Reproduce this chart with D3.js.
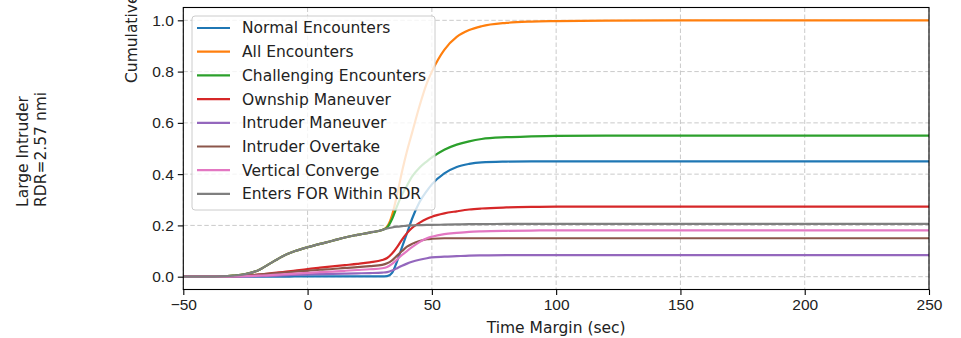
<!DOCTYPE html>
<html>
<head>
<meta charset="utf-8">
<script src="https://cdn.jsdelivr.net/npm/d3@7"></script>
<style>
  body { margin: 0; background: #fff; }
  svg { font-family: "DejaVu Sans", sans-serif; }
</style>
</head>
<body>
<div id="chart"></div>
<script>
// time margin samples (sec)
const times = [-50, -40, -35, -30, -25, -20, -15, -10, -5, 0, 5, 10, 15, 20, 25, 30, 32, 34, 36, 38, 40, 42, 45, 48, 50, 55, 60, 65, 70, 80, 90, 100, 120, 150, 200, 250];

const seriesNames = ["Normal Encounters", "All Encounters", "Challenging Encounters", "Ownship Maneuver",
  "Intruder Maneuver", "Intruder Overtake", "Vertical Converge", "Enters FOR Within RDR"];

const normal = [0, 0, 0, 0, 0, 0, 0, 0, 0.001, 0.001, 0.001, 0.001, 0.001, 0.001, 0.001, 0.001, 0.002, 0.015, 0.06, 0.115, 0.17, 0.225, 0.29, 0.335, 0.36, 0.403, 0.428, 0.44, 0.446, 0.449, 0.45, 0.45, 0.45, 0.45, 0.45, 0.45];
const all = [0, 0, 0.001, 0.004, 0.01, 0.024, 0.052, 0.08, 0.1, 0.115, 0.128, 0.14, 0.153, 0.163, 0.172, 0.182, 0.195, 0.24, 0.32, 0.41, 0.49, 0.56, 0.665, 0.755, 0.8, 0.885, 0.935, 0.962, 0.977, 0.99, 0.995, 0.997, 0.999, 1, 1, 1];
const challenging = [0, 0, 0.001, 0.004, 0.01, 0.024, 0.052, 0.08, 0.1, 0.115, 0.128, 0.14, 0.153, 0.163, 0.172, 0.182, 0.192, 0.225, 0.275, 0.32, 0.355, 0.39, 0.425, 0.45, 0.465, 0.495, 0.515, 0.528, 0.537, 0.544, 0.547, 0.549, 0.55, 0.55, 0.55, 0.55];
const ownship = [0, 0, 0.001, 0.002, 0.004, 0.008, 0.013, 0.018, 0.024, 0.03, 0.035, 0.04, 0.045, 0.05, 0.056, 0.065, 0.073, 0.09, 0.115, 0.145, 0.17, 0.19, 0.21, 0.226, 0.234, 0.247, 0.255, 0.262, 0.266, 0.27, 0.272, 0.273, 0.273, 0.273, 0.273, 0.273];
const intruderMan = [0, 0, 0, 0, 0.001, 0.002, 0.003, 0.005, 0.007, 0.009, 0.01, 0.011, 0.012, 0.013, 0.014, 0.016, 0.018, 0.024, 0.033, 0.043, 0.051, 0.058, 0.066, 0.072, 0.075, 0.078, 0.08, 0.082, 0.083, 0.084, 0.084, 0.084, 0.084, 0.084, 0.084, 0.084];
const overtake = [0, 0, 0.001, 0.002, 0.004, 0.008, 0.012, 0.016, 0.02, 0.023, 0.027, 0.03, 0.034, 0.037, 0.041, 0.046, 0.052, 0.064, 0.082, 0.1, 0.117, 0.128, 0.139, 0.146, 0.148, 0.15, 0.15, 0.15, 0.15, 0.15, 0.15, 0.15, 0.15, 0.15, 0.15, 0.15];
const vertical = [0, 0, 0, 0.001, 0.002, 0.004, 0.006, 0.009, 0.012, 0.015, 0.018, 0.02, 0.023, 0.026, 0.029, 0.033, 0.038, 0.05, 0.067, 0.085, 0.1, 0.115, 0.135, 0.15, 0.156, 0.166, 0.171, 0.175, 0.177, 0.179, 0.18, 0.181, 0.181, 0.181, 0.181, 0.181];
const entersFor = [0, 0, 0.001, 0.004, 0.01, 0.024, 0.052, 0.08, 0.1, 0.115, 0.128, 0.14, 0.153, 0.163, 0.172, 0.182, 0.188, 0.192, 0.195, 0.197, 0.199, 0.2, 0.201, 0.202, 0.202, 0.203, 0.204, 0.205, 0.205, 0.206, 0.206, 0.206, 0.206, 0.206, 0.206, 0.206];

const xTicks = [-50, 0, 50, 100, 150, 200, 250];
const yTicks = [0, 0.2, 0.4, 0.6, 0.8, 1.0];

const values = [normal, all, challenging, ownship, intruderMan, overtake, vertical, entersFor];
const colors = ["#1f77b4", "#ff7f0e", "#2ca02c", "#d62728", "#9467bd", "#8c564b", "#e377c2", "#7f7f7f"];

const W = 961, H = 338;
const margin = {top: 7.5, right: 32, bottom: 48.5, left: 183.3};
const width = W - margin.left - margin.right;
const height = H - margin.top - margin.bottom;
const fs = 15.5;

const svg = d3.select("#chart").append("svg")
  .attr("width", W)
  .attr("height", H);

const g = svg.append("g")
  .attr("transform", `translate(${margin.left},${margin.top})`);

const x = d3.scaleLinear().domain([-50, 250]).range([0, width]);
const y = d3.scaleLinear().domain([-0.05, 1.05]).range([height, 0]);

// grid
g.append("g").selectAll("line")
  .data(xTicks)
  .join("line")
  .attr("x1", d => x(d)).attr("x2", d => x(d))
  .attr("y1", 0).attr("y2", height)
  .attr("stroke", "#c4c4c4").attr("stroke-width", 0.9)
  .attr("stroke-dasharray", "4.5,2.5");

g.append("g").selectAll("line")
  .data(yTicks)
  .join("line")
  .attr("x1", 0).attr("x2", width)
  .attr("y1", d => y(d)).attr("y2", d => y(d))
  .attr("stroke", "#c4c4c4").attr("stroke-width", 0.9)
  .attr("stroke-dasharray", "4.5,2.5");

// lines
g.append("clipPath").attr("id", "clip")
  .append("rect").attr("width", width).attr("height", height);

const line = d3.line()
  .x((d, i) => x(times[i]))
  .y(d => y(d))
  .curve(d3.curveMonotoneX);

g.append("g").attr("clip-path", "url(#clip)")
  .selectAll("path")
  .data(values)
  .join("path")
  .attr("d", d => line(d))
  .attr("fill", "none")
  .attr("stroke", (d, i) => colors[i])
  .attr("stroke-width", 2.2);

// axes
const xAxis = d3.axisBottom(x).tickValues(xTicks).tickSize(5.5).tickPadding(4).tickFormat(d3.format("d"));
const yAxis = d3.axisLeft(y).tickValues(yTicks).tickSize(5.5).tickPadding(4).tickFormat(d3.format(".1f"));

const gx = g.append("g")
  .attr("transform", `translate(0,${height})`)
  .call(xAxis);
const gy = g.append("g").call(yAxis);

[gx, gy].forEach(a => {
  a.select(".domain").remove();
  a.selectAll("line").attr("stroke", "#000").attr("stroke-width", 1.1);
  a.selectAll("text").attr("fill", "#222").style("font-size", fs + "px");
});

// frame
g.append("rect")
  .attr("width", width).attr("height", height)
  .attr("fill", "none").attr("stroke", "#000").attr("stroke-width", 1.1);

// legend
const legend = g.append("g").attr("transform", `translate(${192 - margin.left},${16 - margin.top})`);
legend.append("rect")
  .attr("width", 243).attr("height", 194)
  .attr("rx", 3)
  .attr("fill", "#fff").attr("fill-opacity", 0.8)
  .attr("stroke", "#cccccc").attr("stroke-width", 1);

const rows = legend.selectAll("g.row")
  .data(seriesNames)
  .join("g")
  .attr("class", "row")
  .attr("transform", (d, i) => `translate(0,${12 + i * 23.7})`);

rows.append("line")
  .attr("x1", 5).attr("x2", 38)
  .attr("stroke", (d, i) => colors[i])
  .attr("stroke-width", 2.2);

rows.append("text")
  .attr("x", 50).attr("dy", "0.35em")
  .attr("fill", "#222")
  .style("font-size", fs + "px")
  .text(d => d);

// axis labels
svg.append("text")
  .attr("x", margin.left + width / 2)
  .attr("y", 333)
  .attr("text-anchor", "middle")
  .attr("fill", "#222")
  .style("font-size", fs + "px")
  .text("Time Margin (sec)");

svg.append("text")
  .attr("transform", "translate(136.5,83) rotate(-90)")
  .attr("text-anchor", "start")
  .attr("fill", "#222")
  .style("font-size", fs + "px")
  .text("Cumulative Probability");

const side = svg.append("text")
  .attr("transform", "translate(0,207) rotate(-90)")
  .attr("text-anchor", "start")
  .attr("fill", "#222")
  .style("font-size", fs + "px");
side.append("tspan").attr("x", 0).attr("y", 28).text("Large Intruder");
side.append("tspan").attr("x", 0).attr("y", 46).text("RDR=2.57 nmi");
</script>
</body>
</html>
